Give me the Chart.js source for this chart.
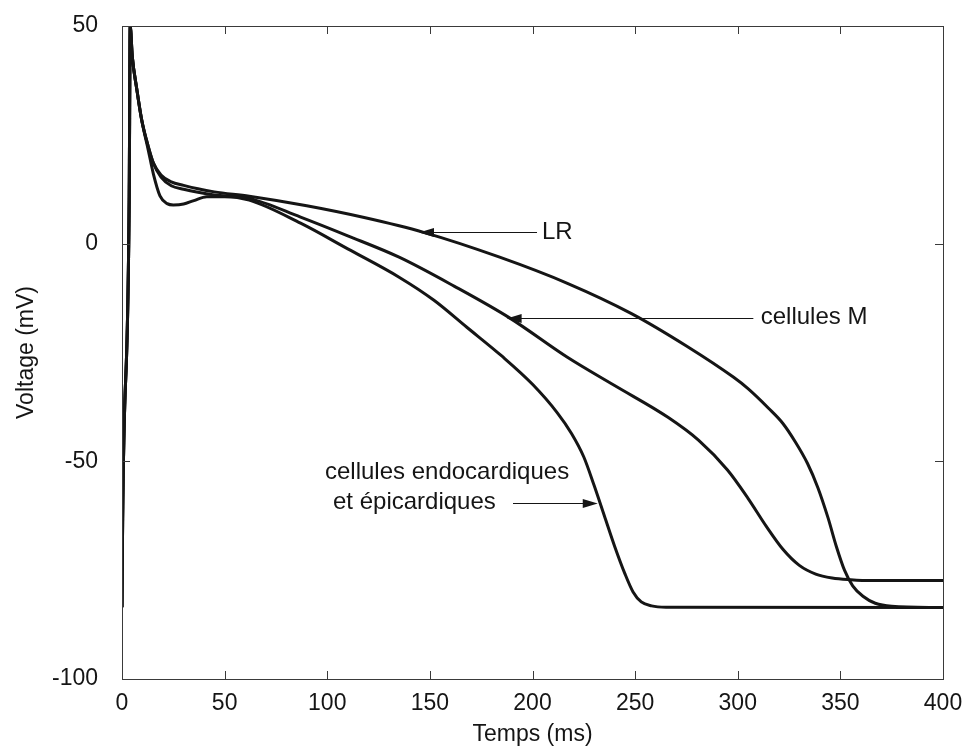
<!DOCTYPE html>
<html>
<head>
<meta charset="utf-8">
<script src="https://cdn.jsdelivr.net/npm/chart.js@4"></script>
<style>
  html, body { margin: 0; padding: 0; background: #fff; }
  #wrap { width: 967px; height: 748px; }
</style>
</head>
<body>
<div id="wrap"><canvas id="chart" width="967" height="748"></canvas></div>
<script>
// values (time in ms, voltage in mV)
const lrTime = [0, 0.3, 3.5, 4, 5, 7.2, 9.6, 12.8, 15.3, 19, 24, 30, 37, 45, 62, 90, 118, 147, 184, 217, 248, 275, 298, 305, 315, 322, 328, 334, 339, 344, 348, 352, 356, 361, 367, 375, 400];
const lrVoltage = [-83.5, -64, 10, 50, 43, 35.5, 28.4, 22.3, 18.5, 15.8, 14.2, 13.4, 12.6, 11.9, 10.9, 8.7, 6, 2.6, -3.1, -9.1, -16, -23.5, -30.7, -33.3, -37.8, -41.3, -45.5, -50.5, -56, -63, -69.5, -75, -78.6, -81, -82.6, -83.3, -83.6];

const mTime = [0, 0.3, 3.5, 4, 5, 7.2, 9.6, 12.8, 15.3, 19, 24, 30, 37, 45, 62, 87, 110, 135, 162, 189, 217, 240, 266, 281, 295, 305, 314, 322, 330, 338, 346, 355, 365, 400];
const mVoltage = [-83.5, -64, 10, 50, 43, 35.5, 28.4, 22.3, 18.5, 15.3, 13.3, 12.5, 11.8, 11.2, 10.4, 6.1, 1.8, -3.1, -9.8, -17.1, -26.1, -32.6, -39.9, -45.2, -52, -58.5, -65, -70.2, -73.9, -75.9, -76.8, -77.2, -77.4, -77.4];

const endoTime = [0, 0.3, 3.5, 4, 5, 7.2, 9.6, 12.8, 15.3, 18.5, 22, 25, 30, 35, 41.3, 50, 62, 87, 110, 135, 152, 168, 185, 200, 212, 219, 225, 230, 235, 240, 245, 249, 253, 258, 265, 400];
const endoVoltage = [-83.5, -64, 10, 50, 43, 35.5, 28.4, 21.5, 16, 11, 9.2, 8.9, 9.1, 9.9, 10.8, 10.8, 10.0, 4.7, -1.2, -7.7, -13, -19.2, -25.8, -32.3, -38.8, -43.6, -49, -55.5, -62.5, -69.5, -75.8, -80, -82.3, -83.2, -83.5, -83.6];

const xTicks = [0, 50, 100, 150, 200, 250, 300, 350, 400];
const yTicks = [-100, -50, 0, 50];

// labels with arrows: text, where the text sits, where the arrow starts and points to
const callouts = [
  { lines: ['LR'], textAt: [204.6, 2.7], from: [202.2, 2.7], to: [144.7, 2.7] },
  { lines: ['cellules M'], textAt: [311.2, -17], from: [307.6, -17], to: [187.4, -17] },
  { lines: ['cellules endocardiques', 'et épicardiques'], textAt: [98.9, -52.5], second: [102.8, -59.4], from: [190.5, -59.6], to: [231.8, -59.6] }
];

const FONT = '"Liberation Sans", Arial, Helvetica, sans-serif';
const INK = '#151515';

function toPoints(times, volts) {
  return times.map((t, i) => ({ x: t, y: volts[i] }));
}

// matlab style box with inward ticks, plus the text callouts
const boxPlugin = {
  id: 'box',
  afterDatasetsDraw(chart) {
    const { ctx, chartArea: a, scales } = chart;
    const x = scales.x, y = scales.y;
    const len = 8;
    ctx.save();
    ctx.strokeStyle = '#3a3a3a';
    ctx.lineWidth = 1;
    ctx.strokeRect(a.left + 0.5, a.top + 0.5, a.right - a.left, a.bottom - a.top);
    ctx.beginPath();
    xTicks.forEach(v => {
      const px = Math.round(x.getPixelForValue(v)) + 0.5;
      ctx.moveTo(px, a.bottom); ctx.lineTo(px, a.bottom - len);
      ctx.moveTo(px, a.top); ctx.lineTo(px, a.top + len);
    });
    yTicks.forEach(v => {
      const py = Math.round(y.getPixelForValue(v)) + 0.5;
      ctx.moveTo(a.left, py); ctx.lineTo(a.left + len, py);
      ctx.moveTo(a.right, py); ctx.lineTo(a.right - len, py);
    });
    ctx.stroke();

    // callouts
    ctx.fillStyle = INK;
    ctx.strokeStyle = INK;
    ctx.font = '24px ' + FONT;
    ctx.textBaseline = 'middle';
    ctx.textAlign = 'left';
    callouts.forEach(c => {
      ctx.fillText(c.lines[0], x.getPixelForValue(c.textAt[0]), y.getPixelForValue(c.textAt[1]));
      if (c.second) {
        ctx.fillText(c.lines[1], x.getPixelForValue(c.second[0]), y.getPixelForValue(c.second[1]));
      }
      const x0 = x.getPixelForValue(c.from[0]), y0 = Math.round(y.getPixelForValue(c.from[1])) + 0.5;
      const x1 = x.getPixelForValue(c.to[0]), y1 = Math.round(y.getPixelForValue(c.to[1])) + 0.5;
      const dir = Math.sign(x1 - x0);
      ctx.lineWidth = 1.2;
      ctx.beginPath();
      ctx.moveTo(x0, y0);
      ctx.lineTo(x1 - dir * 12, y1);
      ctx.stroke();
      ctx.beginPath();
      ctx.moveTo(x1, y1);
      ctx.lineTo(x1 - dir * 15, y1 - 4.5);
      ctx.lineTo(x1 - dir * 15, y1 + 4.5);
      ctx.closePath();
      ctx.fill();
    });
    ctx.restore();
  }
};

const lineStyle = {
  borderColor: INK,
  borderWidth: 3,
  pointRadius: 0,
  fill: false,
  cubicInterpolationMode: 'monotone'
};

new Chart(document.getElementById('chart'), {
  type: 'line',
  data: {
    datasets: [
      { label: 'LR', data: toPoints(lrTime, lrVoltage), ...lineStyle },
      { label: 'cellules M', data: toPoints(mTime, mVoltage), ...lineStyle },
      { label: 'cellules endocardiques et épicardiques', data: toPoints(endoTime, endoVoltage), ...lineStyle }
    ]
  },
  options: {
    responsive: false,
    animation: false,
    layout: { padding: { top: 26, right: 24, bottom: 0, left: 0 } },
    plugins: { legend: { display: false }, tooltip: { enabled: false } },
    scales: {
      x: {
        type: 'linear',
        min: 0,
        max: 400,
        afterFit(scale) { scale.height = 69; scale.paddingLeft = 0; scale.paddingRight = 0; },
        afterBuildTicks(scale) { scale.ticks = xTicks.map(v => ({ value: v })); },
        grid: { display: false, drawTicks: false },
        border: { display: false },
        ticks: { color: INK, padding: 11, maxRotation: 0, font: { family: FONT, size: 23 } },
        title: { display: true, text: 'Temps (ms)', color: INK, padding: { top: 0, bottom: 0 }, font: { family: FONT, size: 23 } }
      },
      y: {
        type: 'linear',
        min: -100,
        max: 50,
        afterFit(scale) { scale.width = 122; scale.paddingTop = 0; scale.paddingBottom = 0; },
        afterBuildTicks(scale) { scale.ticks = yTicks.map(v => ({ value: v })); },
        grid: { display: false, drawTicks: false },
        border: { display: false },
        ticks: { color: INK, padding: 24, font: { family: FONT, size: 23 } },
        title: { display: true, text: 'Voltage (mV)', color: INK, padding: { top: 13, bottom: 0 }, font: { family: FONT, size: 23 } }
      }
    }
  },
  plugins: [boxPlugin]
});
</script>
</body>
</html>
